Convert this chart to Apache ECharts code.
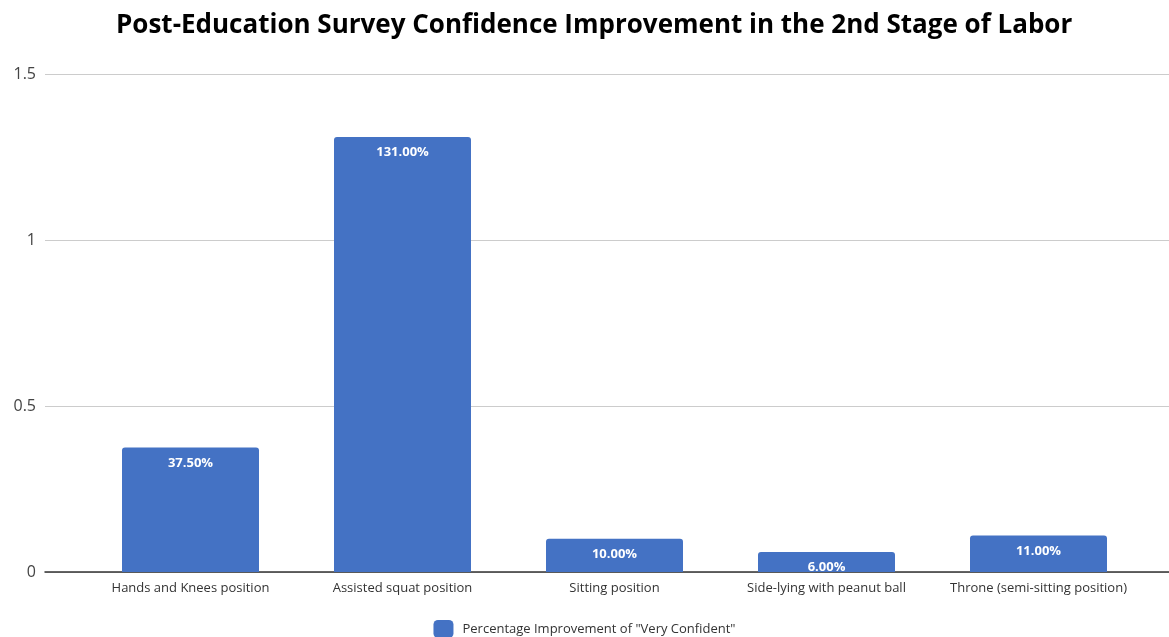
<!DOCTYPE html>
<html>
<head>
<meta charset="utf-8">
<script src="https://cdn.jsdelivr.net/npm/echarts@6/dist/echarts.min.js"></script>
<style>html,body{margin:0;padding:0;background:#fff}#c{width:1169px;height:637px}</style>
</head>
<body>
<div id="c"></div>
<script>
var categories = ["Hands and Knees position", "Assisted squat position", "Sitting position", "Side-lying with peanut ball", "Throne (semi-sitting position)"];
var values = [0.375, 1.31, 0.10, 0.06, 0.11];
var seriesName = 'Percentage Improvement of "Very Confident"';
var titleText = "Post-Education Survey Confidence Improvement in the 2nd Stage of Labor";

var chart = echarts.init(document.getElementById('c'), null, {renderer: 'canvas'});
var font = '"Open Sans", "Noto Sans", sans-serif';
chart.setOption({
  backgroundColor: '#fff',
  animation: false,
  title: {
    text: titleText, left: 111, top: 8,
    textStyle: {fontFamily: font, fontSize: 26, fontWeight: 'bold', color: '#000'}
  },
  legend: {
    bottom: -6, left: 'center', itemWidth: 20, itemHeight: 18, itemGap: 10,
    icon: 'roundRect',
    textStyle: {fontFamily: font, fontSize: 13, color: '#333', padding: [0, 0, 0, 4]},
    data: [seriesName]
  },
  grid: [
    {left: 45, right: 0, top: 74, bottom: 65, containLabel: false},
    {left: 84.5, right: 24.5, top: 74, bottom: 65, containLabel: false}
  ],
  xAxis: [
    {type: 'category', gridIndex: 0, data: categories, axisLabel: {show: false}, axisTick: {show: false},
     axisLine: {show: true, lineStyle: {color: '#333', width: 1.5}}},
    {type: 'category', gridIndex: 1, data: categories, axisTick: {show: false}, axisLine: {show: false},
     axisLabel: {interval: 0, fontFamily: font, fontSize: 13, color: '#333', margin: 10}}
  ],
  yAxis: [
    {type: 'value', gridIndex: 0, min: 0, max: 1.5, interval: 0.5,
     axisLabel: {fontFamily: font, fontSize: 16, color: '#444', margin: 9},
     axisLine: {show: false}, axisTick: {show: false},
     splitLine: {lineStyle: {color: '#ccc', width: 1}}},
    {type: 'value', gridIndex: 1, min: 0, max: 1.5, interval: 0.5, show: false, splitLine: {show: false}}
  ],
  series: [{
    name: seriesName, type: 'bar', xAxisIndex: 1, yAxisIndex: 1, data: values, barWidth: 137,
    itemStyle: {color: '#4472C4', borderRadius: [3, 3, 0, 0]},
    label: {show: true, position: 'insideTop', distance: 9, color: '#fff', fontFamily: font, fontWeight: 'bold', fontSize: 13,
      formatter: function (p) { return (p.value * 100).toFixed(2) + '%'; }}
  }]
});
</script>
</body>
</html>
